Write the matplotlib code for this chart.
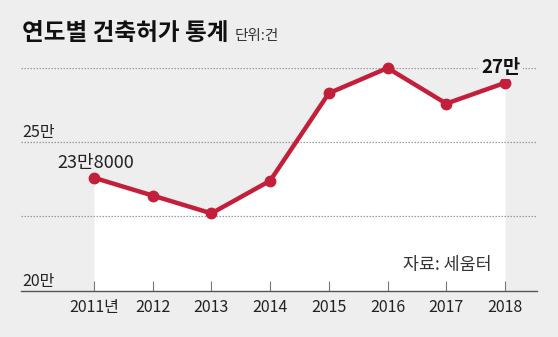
import matplotlib
matplotlib.use("Agg")
import matplotlib.pyplot as plt

plt.rcParams["font.family"] = ["Noto Sans CJK KR", "DejaVu Sans"]

# 연도별 건축허가 건수
years       = [2011, 2012, 2013, 2014, 2015, 2016, 2017, 2018]
year_labels = ["2011년", "2012", "2013", "2014", "2015", "2016", "2017", "2018"]
permits     = [238000, 232000, 226000, 237000, 266500, 275000, 263000, 270000]
grid_values = [225000, 250000, 275000]
ytick_values = [200000, 250000]
ytick_labels = ["20만", "25만"]

BG   = "#eeeeee"
RED  = "#c41f3a"
TEXT = "#222222"

fig = plt.figure(figsize=(5.58, 3.37), dpi=100, facecolor=BG)
ax = fig.add_axes([21 / 558, 1 - 290.5 / 337, 516 / 558, 222.5 / 337])
ax.set_facecolor(BG)

x = list(range(len(years)))
ax.fill_between(x, permits, 200000, color="white", lw=0, zorder=1)
for g in grid_values:
    ax.axhline(g, color="#999999", lw=0.9, ls=(0, (1.2, 1.2)), zorder=2)
ax.plot(x, permits, color=RED, lw=3.2, marker="o", ms=7.5,
        solid_capstyle="round", zorder=4, clip_on=False)

ax.set_xlim(-1.243, 7.545)
ax.set_ylim(200000, 275000)

for s in ["top", "right", "left"]:
    ax.spines[s].set_visible(False)
ax.spines["bottom"].set_color("#555555")
ax.spines["bottom"].set_linewidth(1)

ax.set_xticks(x)
ax.set_xticklabels(year_labels, fontsize=11.5, color=TEXT)
ax.tick_params(axis="x", direction="in", length=7, width=0.8,
               color="#777777", pad=6)
ax.set_yticks([])

# y축 눈금 글자는 격자선 바로 위에
for v, lab in zip(ytick_values, ytick_labels):
    ax.annotate(lab, xy=(0, v), xycoords=("axes fraction", "data"),
                xytext=(1, 0.5), textcoords="offset points",
                ha="left", va="bottom", fontsize=11.5, color=TEXT)

# 시작/끝 값 표시
ax.annotate("23만8000", xy=(x[0], permits[0]), xytext=(29, 4),
            textcoords="offset points", ha="right", va="bottom",
            fontsize=13, color=TEXT, zorder=5)
ax.annotate("27만", xy=(x[-1], permits[-1]), xytext=(-3, 4.5),
            textcoords="offset points", ha="center", va="bottom",
            fontsize=13.5, fontweight="bold", color="#111111", zorder=5,
            bbox=dict(boxstyle="square,pad=0.15", fc=BG, ec="none"))

ax.text(0.913, 0.115, "자료: 세움터", transform=ax.transAxes,
        ha="right", va="center", fontsize=12.5, color="#333333", zorder=5)

fig.text(22 / 558, 1 - 33 / 337, "연도별 건축허가 통계", ha="left", va="center",
         fontsize=17, fontweight="bold", color="#111111")
fig.text(235 / 558, 1 - 36 / 337, "단위:건", ha="left", va="center",
         fontsize=10.5, color="#333333")

fig.savefig("out.png", dpi=100, facecolor=BG)
